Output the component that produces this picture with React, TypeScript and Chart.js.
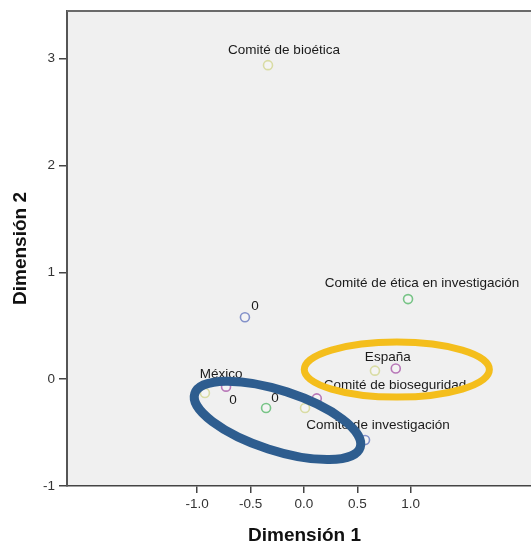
import React, { useEffect, useRef } from 'react';
import { Chart, registerables } from 'chart.js';

Chart.register(...registerables);

// Axis ticks
const xTicks = [-1, -0.5, 0, 0.5, 1];
const yTicks = [-1, 0, 1, 2, 3];
const xMin = -2.22;
const xMax = 2.23;
const yMin = -1;
const yMax = 3.447;

// Series (category points)
const purpleX = [-0.73, 0.86, 0.12];
const purpleY = [-0.07, 0.1, -0.18];
const purpleLabels = ['México', 'España', ''];

const greenX = [0.975, -0.355];
const greenY = [0.75, -0.27];
const greenLabels = ['Comité de ética en investigación', '0'];

const blueX = [-0.553, 0.572];
const blueY = [0.58, -0.57];
const blueLabels = ['0', 'Comité de investigación'];

const beigeX = [-0.337, 0.665, -0.928, 0.01];
const beigeY = [2.94, 0.08, -0.13, -0.27];
const beigeLabels = ['Comité de bioética', 'Comité de bioseguridad', '0', ''];

// Highlight ellipses (data units)
const ellipseCx = [0.87, -0.248];
const ellipseCy = [0.09, -0.386];
const ellipseRx = [0.867, 0.815];
const ellipseRy = [0.258, 0.281];
const ellipseAngleDeg = [0, 18];

// Styles (kept apart from data)
const seriesColors = ['#b878b8', '#78c487', '#8391c9', '#d9dca4'];
const labelOffsets: number[][][] = [
  [[-5, -12], [-8, -11], [0, 0]],
  [[14, -16], [9, -10]],
  [[10, -11], [13, -15]],
  [[16, -15], [20, 15], [28, 7], [0, 0]],
];
const ellipseColors = ['#F4BE1C', '#2E5D8F'];
const ellipseWidths = [7, 9];

const FONT = "'Liberation Sans', Arial, sans-serif";

function toPoints(xs: number[], ys: number[]) {
  return xs.map((x, i) => ({ x, y: ys[i] }));
}

export default function App() {
  const ref = useRef<HTMLCanvasElement | null>(null);

  useEffect(() => {
    if (!ref.current) return;
    const labels = [purpleLabels, greenLabels, blueLabels, beigeLabels];

    const overlay = {
      id: 'overlay',
      beforeDraw(chart: any) {
        const { ctx, chartArea: a } = chart;
        ctx.save();
        ctx.fillStyle = '#F0F0F0';
        ctx.fillRect(a.left, a.top, a.right - a.left, a.bottom - a.top);
        ctx.restore();
      },
      afterDraw(chart: any) {
        const { ctx, chartArea: a } = chart;
        ctx.save();
        ctx.strokeStyle = '#6a6a6a';
        ctx.lineWidth = 2;
        ctx.beginPath();
        ctx.moveTo(a.left, a.top);
        ctx.lineTo(a.right, a.top);
        ctx.stroke();
        ctx.restore();
      },
      afterDatasetsDraw(chart: any) {
        const { ctx } = chart;
        ctx.save();
        ctx.font = `13.5px ${FONT}`;
        ctx.fillStyle = '#1a1a1a';
        ctx.textAlign = 'center';
        ctx.textBaseline = 'middle';
        chart.data.datasets.forEach((_ds: any, di: number) => {
          const meta = chart.getDatasetMeta(di);
          meta.data.forEach((pt: any, i: number) => {
            const t = labels[di][i];
            if (!t) return;
            const off = labelOffsets[di][i];
            ctx.fillText(t, pt.x + off[0], pt.y + off[1]);
          });
        });
        const xs = chart.scales.x;
        const ys = chart.scales.y;
        const pxPerUnit = xs.getPixelForValue(1) - xs.getPixelForValue(0);
        ellipseCx.forEach((cx, i) => {
          ctx.beginPath();
          ctx.ellipse(
            xs.getPixelForValue(cx),
            ys.getPixelForValue(ellipseCy[i]),
            ellipseRx[i] * pxPerUnit,
            ellipseRy[i] * pxPerUnit,
            (ellipseAngleDeg[i] * Math.PI) / 180,
            0,
            Math.PI * 2
          );
          ctx.strokeStyle = ellipseColors[i];
          ctx.lineWidth = ellipseWidths[i];
          ctx.stroke();
        });
        ctx.restore();
      },
    };

    const mk = (xs: number[], ys: number[], color: string) => ({
      data: toPoints(xs, ys),
      borderColor: color,
      backgroundColor: 'rgba(255,255,255,0.25)',
      pointRadius: 4.5,
      pointBorderWidth: 1.6,
      pointStyle: 'circle',
      showLine: false,
    });

    const chart = new Chart(ref.current, {
      type: 'scatter',
      data: {
        datasets: [
          mk(purpleX, purpleY, seriesColors[0]),
          mk(greenX, greenY, seriesColors[1]),
          mk(blueX, blueY, seriesColors[2]),
          mk(beigeX, beigeY, seriesColors[3]),
        ],
      },
      options: {
        responsive: false,
        animation: false,
        devicePixelRatio: 1,
        layout: { autoPadding: false, padding: { top: 11, left: 0, right: 0, bottom: 0 } },
        plugins: { legend: { display: false }, tooltip: { enabled: false } },
        scales: {
          x: {
            type: 'linear',
            min: xMin,
            max: xMax,
            afterBuildTicks: (s: any) => {
              s.ticks = xTicks.map((v) => ({ value: v }));
            },
            afterFit: (s: any) => {
              s.height = 59;
              s.paddingLeft = 0;
              s.paddingRight = 0;
            },
            grid: { drawOnChartArea: false, drawTicks: true, tickLength: 7, color: '#444', lineWidth: 1.5 },
            border: { display: true, color: '#444', width: 1.5 },
            ticks: {
              font: { family: FONT, size: 13.5 },
              color: '#333',
              padding: 3,
              maxRotation: 0,
              autoSkip: false,
              callback: (v: any) => Number(v).toFixed(1),
            },
            title: {
              display: true,
              text: 'Dimensión 1',
              font: { family: FONT, size: 19, weight: 'bold' },
              color: '#111',
              padding: { top: 0, bottom: -2 },
            },
          },
          y: {
            type: 'linear',
            min: yMin,
            max: yMax,
            afterBuildTicks: (s: any) => {
              s.ticks = yTicks.map((v) => ({ value: v }));
            },
            afterFit: (s: any) => {
              s.width = 67;
              s.paddingTop = 0;
              s.paddingBottom = 0;
            },
            grid: { drawOnChartArea: false, drawTicks: true, tickLength: 8, color: '#444', lineWidth: 1.5 },
            border: { display: true, color: '#555', width: 2 },
            ticks: {
              font: { family: FONT, size: 13.5 },
              color: '#333',
              padding: 4,
              autoSkip: false,
              callback: (v: any) => String(v),
            },
            title: {
              display: true,
              text: 'Dimensión 2',
              font: { family: FONT, size: 19, weight: 'bold' },
              color: '#111',
              padding: { top: 9, bottom: 0 },
            },
          },
        },
      },
      plugins: [overlay],
    } as any);

    return () => chart.destroy();
  }, []);

  return (
    <div style={{ position: 'fixed', left: 0, top: 0, width: 531, height: 545, overflow: 'hidden', background: '#fff' }}>
      <canvas ref={ref} width={542} height={545} style={{ display: 'block' }} />
    </div>
  );
}
